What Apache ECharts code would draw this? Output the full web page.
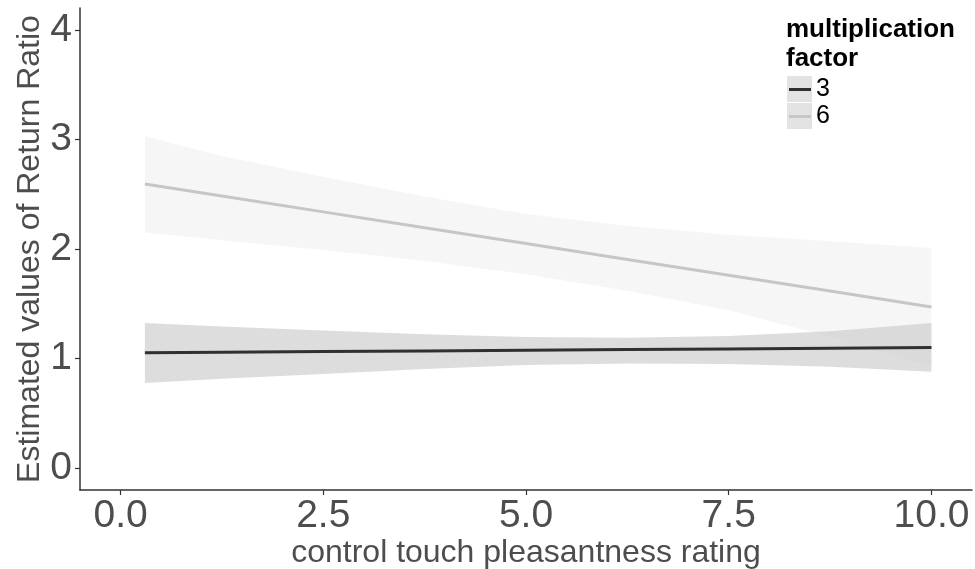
<!DOCTYPE html>
<html>
<head>
<meta charset="utf-8">
<script src="https://cdn.jsdelivr.net/npm/echarts@6/dist/echarts.min.js"></script>
<style>
  html, body { margin: 0; padding: 0; background: #fff; }
  #box { width: 975px; height: 569px; }
</style>
</head>
<body>
<div id="box"></div>
<script>
// values
var xs = [0.3, 1.25, 2.5, 3.75, 5, 6.25, 7.5, 8.75, 10];

// multiplication factor 3
var fit3 = [1.054, 1.058, 1.064, 1.070, 1.076, 1.082, 1.088, 1.094, 1.100];
var lo3 = [0.777, 0.815, 0.860, 0.905, 0.940, 0.955, 0.950, 0.925, 0.880];
var hi3 = [1.325, 1.292, 1.255, 1.222, 1.197, 1.190, 1.205, 1.250, 1.325];

// multiplication factor 6
var fit6 = [2.594, 2.484, 2.339, 2.194, 2.050, 1.905, 1.760, 1.616, 1.471];
var lo6 = [2.150, 2.080, 1.990, 1.890, 1.770, 1.620, 1.440, 1.200, 0.930];
var hi6 = [3.030, 2.850, 2.660, 2.480, 2.320, 2.210, 2.130, 2.070, 2.010];

var xTicks = [0, 2.5, 5, 7.5, 10];
var yTicks = [0, 1, 2, 3, 4];

var chart = echarts.init(document.getElementById('box'));

function rows(lo, hi) {
  return xs.map(function(x, i) { return [x, lo[i], hi[i]]; });
}
function pairs(ys) {
  return xs.map(function(x, i) { return [x, ys[i]]; });
}

// whole ribbon drawn as one polygon
function ribbon(lo, hi, fill) {
  return function(params, api) {
    if (params.dataIndex !== 0) return;
    var pts = [];
    for (var i = 0; i < xs.length; i++) pts.push(api.coord([xs[i], hi[i]]));
    for (var j = xs.length - 1; j >= 0; j--) pts.push(api.coord([xs[j], lo[j]]));
    return { type: 'polygon', shape: { points: pts }, style: { fill: fill } };
  };
}

var font = '"Liberation Sans", Arial, sans-serif';

option = {
  animation: false,
  title: {
    text: 'multiplication\nfactor',
    left: 786,
    top: 15,
    padding: 0,
    textStyle: { fontFamily: font, fontSize: 26, fontWeight: 'bold', lineHeight: 29, color: '#000' }
  },
  legend: {
    data: ['3', '6'],
    orient: 'vertical',
    left: 789,
    top: 76,
    padding: 0,
    itemGap: 0,
    itemWidth: 22,
    itemHeight: 3,
    icon: 'rect',
    textStyle: { fontFamily: font, fontSize: 25, lineHeight: 27, color: '#000' }
  },
  graphic: [
    { type: 'rect', left: 787, top: 76, z: -1, shape: { width: 25, height: 26 }, style: { fill: '#e3e3e3' } },
    { type: 'rect', left: 787, top: 103, z: -1, shape: { width: 25, height: 26 }, style: { fill: '#e3e3e3' } }
  ],
  grid: { left: 80, right: 3, top: 8, bottom: 79, outerBoundsMode: 'none' },
  xAxis: {
    type: 'value',
    min: -0.5,
    max: 10.5,
    name: 'control touch pleasantness rating',
    nameLocation: 'middle',
    nameGap: 47,
    nameMoveOverlap: false,
    nameTextStyle: { fontFamily: font, fontSize: 32, color: '#4d4d4d', verticalAlign: 'top' },
    splitLine: { show: false },
    axisLine: { onZero: false, lineStyle: { color: '#333', width: 1.5 } },
    axisTick: { customValues: xTicks, length: 5, lineStyle: { color: '#333', width: 1.2 } },
    axisLabel: {
      customValues: xTicks,
      margin: 7,
      fontFamily: font,
      fontSize: 39,
      color: '#4d4d4d',
      formatter: function(v) { return v.toFixed(1); }
    }
  },
  yAxis: {
    type: 'value',
    min: -0.2,
    max: 4.2,
    name: 'Estimated values of Return Ratio',
    nameLocation: 'middle',
    nameGap: 34,
    nameMoveOverlap: false,
    nameTextStyle: { fontFamily: font, fontSize: 32, color: '#4d4d4d' },
    splitLine: { show: false },
    axisLine: { show: true, onZero: false, lineStyle: { color: '#333', width: 1.5 } },
    axisTick: { show: true, customValues: yTicks, length: 5, lineStyle: { color: '#333', width: 1.2 } },
    axisLabel: {
      customValues: yTicks,
      margin: 8,
      fontFamily: font,
      fontSize: 39,
      color: '#4d4d4d'
    }
  },
  series: [
    {
      name: 'ci3',
      type: 'custom',
      data: rows(lo3, hi3),
      encode: { x: 0, y: [1, 2] },
      renderItem: ribbon(lo3, hi3, 'rgba(51,51,51,0.17)'),
      z: 1
    },
    {
      name: 'ci6',
      type: 'custom',
      data: rows(lo6, hi6),
      encode: { x: 0, y: [1, 2] },
      renderItem: ribbon(lo6, hi6, 'rgba(200,200,200,0.17)'),
      z: 1
    },
    {
      name: '3',
      type: 'line',
      data: pairs(fit3),
      showSymbol: false,
      color: '#303030',
      lineStyle: { width: 3, color: '#303030' },
      z: 3
    },
    {
      name: '6',
      type: 'line',
      data: pairs(fit6),
      showSymbol: false,
      color: '#c6c6c6',
      lineStyle: { width: 3, color: '#c6c6c6' },
      z: 3
    }
  ]
};

chart.setOption(option);
</script>
</body>
</html>
